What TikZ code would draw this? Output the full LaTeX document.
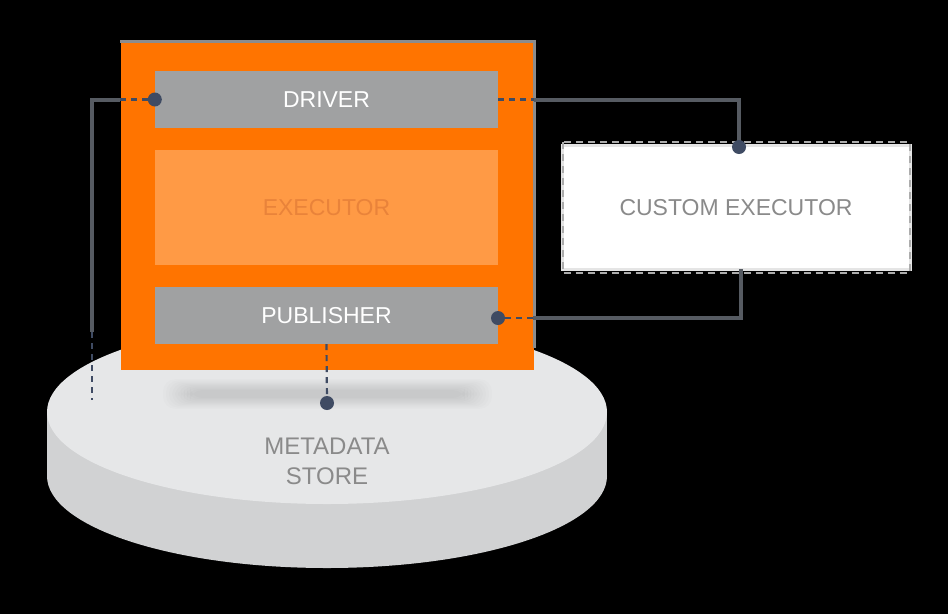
\documentclass[tikz,border=0pt]{standalone}
\usepackage{fontspec}
\setmainfont{Liberation Sans}
\usetikzlibrary{calc}

\definecolor{enginefill}{HTML}{FF7400}
\definecolor{execfill}{HTML}{FF9A45}
\definecolor{exectext}{HTML}{E9833A}
\definecolor{compgrey}{HTML}{A0A1A2}
\definecolor{wiregrey}{HTML}{565B62}
\definecolor{dotblue}{HTML}{3F4B63}
\definecolor{disktop}{HTML}{E6E7E8}
\definecolor{diskside}{HTML}{D1D2D3}
\definecolor{labelgrey}{HTML}{8A8A8A}

\tikzset{
  comp/.style={fill=compgrey, text=white, minimum width=343pt, minimum height=57pt,
    inner sep=0pt, font=\fontsize{23}{27}\selectfont},
  dot/.style={circle, fill=dotblue, minimum size=14pt, inner sep=0pt},
  wire/.style={draw=wiregrey, line width=4pt},
  link/.style={draw=dotblue, line width=2.2pt, dash pattern=on 6pt off 5pt},
}

\begin{document}
\begin{tikzpicture}[x=1pt,y=-1pt]
\useasboundingbox (0,0) rectangle (948,614);
\fill[black] (0,0) rectangle (948,614);

% metadata store
\fill[diskside] (327,476) ellipse (280 and 92);
\fill[diskside] (47,412) rectangle (607,476);
\fill[disktop] (327,412) ellipse (280 and 92);

% soft shadow under the engine
\foreach \i in {0,...,9}
  \fill[black, opacity=0.01, rounded corners=12pt] (190-\i*3,390-\i*1.2) rectangle (465+\i*3,398+\i*1.2);

\node[text=labelgrey, align=center, font=\fontsize{24}{30}\selectfont] (store) at (327,461) {METADATA\\STORE};

% engine
\node[fill=enginefill, minimum width=413pt, minimum height=330pt, inner sep=0pt] (engine) at (327,205) {};
\draw[gray!90, line width=3pt] (120,41.5) -- (534.5,41.5) -- (534.5,348);
\node[comp] (driver) at (326.5,99.5) {DRIVER};
\node[comp, fill=execfill, text=exectext, minimum height=115pt] (executor) at (326.5,207.5) {EXECUTOR};
\node[comp] (publisher) at (326.5,315.5) {PUBLISHER};

% custom executor
\node[fill=white, draw=gray!20, line width=3pt, minimum width=348pt, minimum height=124pt, inner sep=0pt] (custom) at (736,207.5) {};
\draw[gray!65, line width=2pt, dash pattern=on 7pt off 5pt] ([shift={(2,-2)}]custom.north west) rectangle ([shift={(-2,2)}]custom.south east);
\node[text=labelgrey, font=\fontsize{23}{27}\selectfont] (customlabel) at (custom.center) {CUSTOM EXECUTOR};

% bend points
\coordinate (drvleft) at (engine.west |- driver.west);
\coordinate (drvbend) at (92,99.5);
\coordinate (drvend) at (92,332);
\coordinate (drvtail) at (92,400);
\coordinate (drvright) at (engine.east |- driver.east);
\coordinate (pubright) at (533,318);
\coordinate (custbot) at (741,269);

% connectors
\draw[wire] (drvleft) -- (drvbend) -- (drvend);
\draw[link] (drvend) -- (drvtail);
\draw[wire] (drvright) -| (739,147);
\draw[wire] (pubright) -| (custbot);

\node[dot] (drvdot) at (driver.west) {};
\node[dot] (custdot) at (739,147) {};
\node[dot] (pubdot) at (498,318) {};
\node[dot] (storedot) at (327,403) {};

\draw[link] (drvdot) -- (drvleft);
\draw[link] (driver.east) -- (drvright);
\draw[link] (pubdot) -- (pubright);
\draw[link] (publisher.south) -- (storedot);
\end{tikzpicture}
\end{document}
